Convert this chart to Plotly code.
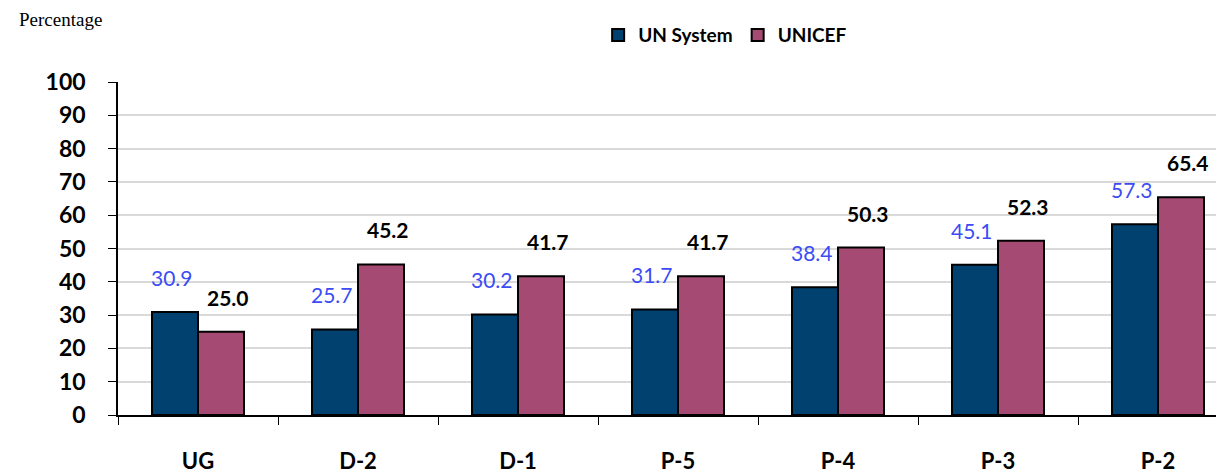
import plotly.graph_objects as go

categories = ["UG", "D-2", "D-1", "P-5", "P-4", "P-3", "P-2"]
un_system = [30.9, 25.7, 30.2, 31.7, 38.4, 45.1, 57.3]
unicef = [25.0, 45.2, 41.7, 41.7, 50.3, 52.3, 65.4]
y_ticks = [0, 10, 20, 30, 40, 50, 60, 70, 80, 90, 100]

BLUE = "#00416F"
PINK = "#A54A72"
FONT = "Lato"

fig = go.Figure()
fig.add_trace(go.Bar(name="UN System", x=categories, y=un_system,
                     marker=dict(color=BLUE, line=dict(color="black", width=2))))
fig.add_trace(go.Bar(name="UNICEF", x=categories, y=unicef,
                     marker=dict(color=PINK, line=dict(color="black", width=2))))

for c, v in zip(categories, un_system):
    fig.add_annotation(x=c, y=v, text=f"{v:.1f}", showarrow=False,
                       xanchor="center", yanchor="bottom", xshift=-26, yshift=20,
                       font=dict(family=FONT, size=21, color="#3B4CF5"))
for c, v in zip(categories, unicef):
    fig.add_annotation(x=c, y=v, text=f"<b>{v:.1f}</b>", showarrow=False,
                       xanchor="center", yanchor="bottom", xshift=30, yshift=20,
                       font=dict(family=FONT, size=21, color="black"))

fig.add_annotation(text="Percentage", xref="paper", yref="paper",
                   x=-0.091, y=1.189, xanchor="left", yanchor="middle",
                   showarrow=False,
                   font=dict(family="Liberation Serif", size=19, color="black"))

fig.update_layout(
    width=1224, height=474,
    margin=dict(l=110, r=0, t=74, b=67),
    paper_bgcolor="white", plot_bgcolor="white",
    barmode="group", bargap=0.425, bargroupgap=0,
    showlegend=True,
    legend=dict(orientation="h", x=0.545, y=1.141, xanchor="center", yanchor="middle",
                font=dict(family=FONT, size=19, color="black", weight="bold"),
                itemwidth=30, tracegroupgap=0),
    xaxis=dict(range=[-0.5, 6.4625], showline=True, linecolor="black", linewidth=1.5,
               ticks="outside", tickson="boundaries", ticklen=8, tickcolor="black",
               ticklabelstandoff=26, automargin=False,
               tickfont=dict(family=FONT, size=22, color="black", weight="bold")),
    yaxis=dict(range=[0, 100], tickvals=y_ticks, showline=True, linecolor="black",
               linewidth=1.5, ticks="outside", ticklen=8, tickcolor="black",
               showgrid=True, gridcolor="#D9D9D9", gridwidth=1.5, automargin=False,
               ticklabelstandoff=18,
               tickfont=dict(family=FONT, size=23, color="black", weight="bold"),
               zeroline=False),
)

fig.write_html("out.html")
